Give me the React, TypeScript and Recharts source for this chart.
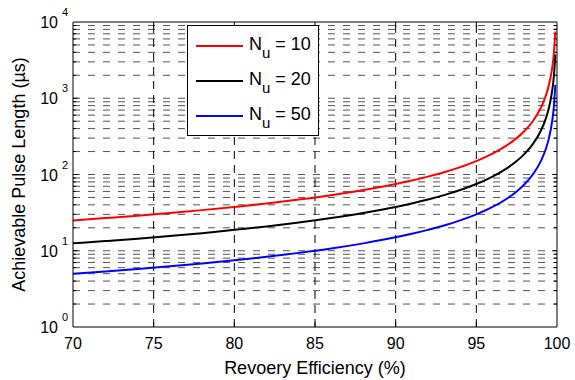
import React from 'react';
import { LineChart, Line, XAxis, YAxis, ReferenceLine } from 'recharts';

// Recovery efficiency (%)
const efficiency = [70, 72, 74, 76, 78, 80, 82, 84, 86, 88, 90, 91, 92, 93, 94, 95, 96, 97, 97.5, 98, 98.5, 99, 99.3, 99.5, 99.7, 99.8, 99.9];
// Achievable pulse length (µs)
const pulseN10 = [25, 26.8, 28.8, 31.3, 34.1, 37.5, 41.7, 46.9, 53.6, 62.5, 75, 83.3, 93.8, 107, 125, 150, 188, 250, 300, 375, 500, 750, 1070, 1500, 2500, 3750, 7500];
const pulseN20 = [12.5, 13.4, 14.4, 15.6, 17.0, 18.8, 20.8, 23.4, 26.8, 31.3, 37.5, 41.7, 46.9, 53.6, 62.5, 75, 93.8, 125, 150, 188, 250, 375, 536, 750, 1250, 1880, 3750];
const pulseN50 = [5, 5.36, 5.77, 6.25, 6.82, 7.5, 8.33, 9.38, 10.7, 12.5, 15, 16.7, 18.8, 21.4, 25, 30, 37.5, 50, 60, 75, 100, 150, 214, 300, 500, 750, 1500];

const seriesNames = ['10', '20', '50'];
const seriesColors = ['#ff0000', '#000000', '#0000ff'];
const seriesKeys = ['n10', 'n20', 'n50'];

const xTicks = [70, 75, 80, 85, 90, 95, 100];
const xGrid = [75, 80, 85, 90, 95];
const yTicks = [1, 10, 100, 1000, 10000];
const yExponents = ['0', '1', '2', '3', '4'];
const yDecades = [1, 10, 100, 1000];
const yMinorMultipliers = [2, 3, 4, 5, 6, 7, 8, 9];

const data = efficiency.map((x, i) => ({
  x,
  n10: pulseN10[i],
  n20: pulseN20[i],
  n50: pulseN50[i],
}));

const yMinor: number[] = [];
yDecades.forEach((d) => yMinorMultipliers.forEach((m) => yMinor.push(d * m)));

const FONT = '"Liberation Sans", Arial, sans-serif';
const GRID = '#555555';
const DASH = '7 8';

const XTick = (props: any) => {
  const { x, y, payload } = props;
  return (
    <text x={x} y={y + 22} textAnchor="middle" fontSize={16} fontFamily={FONT} fill="#000">
      {payload.value}
    </text>
  );
};

const YTick = (props: any) => {
  const { x, y, payload } = props;
  const idx = yTicks.indexOf(payload.value);
  return (
    <g>
      <text x={x - 15} y={y + 6} textAnchor="end" fontSize={16} fontFamily={FONT} fill="#000">
        10
      </text>
      <text x={x - 11} y={y - 6} textAnchor="start" fontSize={11} fontFamily={FONT} fill="#000">
        {yExponents[idx]}
      </text>
    </g>
  );
};

const LegendBox = () => (
  <div
    style={{
      position: 'absolute',
      left: 187,
      top: 25,
      width: 130,
      height: 109,
      background: '#fff',
      border: '1px solid #000',
      fontFamily: FONT,
    }}
  >
    {seriesNames.map((name, i) => (
      <div key={i} style={{ position: 'absolute', left: 0, top: 8 + i * 35, height: 24, width: 130 }}>
        <div style={{ position: 'absolute', left: 8, top: 11, width: 47, height: 2, background: seriesColors[i] }} />
        <div style={{ position: 'absolute', left: 61, top: 0, fontSize: 18, lineHeight: '20px', whiteSpace: 'nowrap', color: '#000' }}>
          N<span style={{ fontSize: 15, position: 'relative', top: 8 }}>u</span> = {name}
        </div>
      </div>
    ))}
  </div>
);

export default function App() {
  return (
    <div style={{ position: 'absolute', left: 0, top: 0, width: 575, height: 380, background: '#fff' }}>
      <LineChart width={575} height={380} data={data} margin={{ top: 22, right: 18, bottom: 0, left: 0 }}>
        <XAxis
          dataKey="x"
          type="number"
          domain={[70, 100]}
          ticks={xTicks}
          allowDataOverflow
          tickSize={0}
          tickMargin={0}
          tick={<XTick />}
          axisLine={{ stroke: '#000', strokeWidth: 1 }}
          height={53}
          label={{ value: 'Revoery Efficiency (%)', position: 'insideBottom', offset: 6, fontSize: 18, fontFamily: FONT, fill: '#000' }}
        />
        <YAxis
          type="number"
          scale="log"
          domain={[1, 10000]}
          ticks={yTicks}
          allowDataOverflow
          width={73}
          tickSize={0}
          tickMargin={0}
          tick={<YTick />}
          axisLine={{ stroke: '#000', strokeWidth: 1 }}
          label={{ value: 'Achievable Pulse Length (µs)', angle: -90, position: 'insideLeft', offset: 19, fontSize: 18, fontFamily: FONT, fill: '#000', style: { textAnchor: 'middle' } }}
        />
        {yMinor.map((v) => (
          <ReferenceLine key={'m' + v} y={v} stroke={GRID} strokeDasharray={DASH} strokeWidth={1} />
        ))}
        {yTicks.slice(1, 4).map((v) => (
          <ReferenceLine key={'M' + v} y={v} stroke={GRID} strokeDasharray={DASH} strokeWidth={1} />
        ))}
        {xGrid.map((v) => (
          <ReferenceLine key={'v' + v} x={v} stroke="#000" strokeDasharray="8 6" strokeWidth={1} />
        ))}
        {xGrid.map((v) => (
          <ReferenceLine key={'tb' + v} segment={[{ x: v, y: 1 }, { x: v, y: 1.16 }]} stroke="#000" />
        ))}
        {xGrid.map((v) => (
          <ReferenceLine key={'tt' + v} segment={[{ x: v, y: 10000 }, { x: v, y: 8620 }]} stroke="#000" />
        ))}
        {yTicks.slice(1, 4).map((v) => (
          <ReferenceLine key={'tl' + v} segment={[{ x: 70, y: v }, { x: 70.3, y: v }]} stroke="#000" />
        ))}
        {yTicks.slice(1, 4).map((v) => (
          <ReferenceLine key={'tr' + v} segment={[{ x: 99.7, y: v }, { x: 100, y: v }]} stroke="#000" />
        ))}
        {yMinor.map((v) => (
          <ReferenceLine key={'ml' + v} segment={[{ x: 70, y: v }, { x: 70.18, y: v }]} stroke="#000" />
        ))}
        {yMinor.map((v) => (
          <ReferenceLine key={'mr' + v} segment={[{ x: 99.82, y: v }, { x: 100, y: v }]} stroke="#000" />
        ))}
        <ReferenceLine y={10000} stroke="#000" strokeWidth={1} />
        <ReferenceLine x={100} stroke="#000" strokeWidth={1} />
        {seriesKeys.map((k, i) => (
          <Line
            key={k}
            dataKey={k}
            name={seriesNames[i]}
            stroke={seriesColors[i]}
            strokeWidth={2}
            dot={false}
            type="monotone"
            isAnimationActive={false}
          />
        ))}
      </LineChart>
      <LegendBox />
    </div>
  );
}
